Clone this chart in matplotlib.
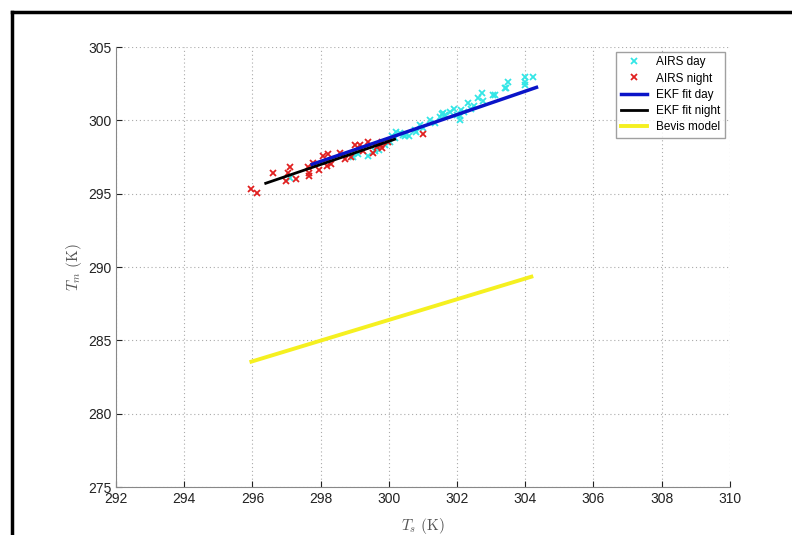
"""Tm vs Ts scatter with EKF fits and Bevis model."""
import matplotlib
matplotlib.use("Agg")
import matplotlib.pyplot as plt
from matplotlib.lines import Line2D

# AIRS day samples (Ts, Tm)
day_ts = [304.23, 303.99, 303.99, 303.5, 303.4, 303.06, 302.72, 302.62, 302.75,
          302.32, 302.5, 302.13, 302.08, 302.0, 301.79, 301.64, 301.5, 301.55,
          301.9, 301.2, 301.35, 300.9, 300.76, 300.51, 300.47, 300.32, 300.17,
          300.03, 300.22, 300.42, 300.6, 300.8, 301.6, 302.1, 302.4, 303.1,
          303.45, 304.0, 298.95, 299.1, 299.4, 297.09, 299.6, 299.7, 302.2,
          301.0, 300.1, 299.9]
day_tm = [302.98, 302.93, 302.41, 302.64, 302.18, 301.73, 301.84, 301.5, 301.3,
          301.2, 301.0, 300.7, 300.02, 300.35, 300.59, 300.36, 300.2, 300.45,
          300.75, 300.02, 299.8, 299.68, 299.34, 299.07, 298.9, 299.16, 298.78,
          298.55, 299.23, 299.0, 298.9, 299.2, 300.48, 300.3, 300.8, 301.7,
          302.18, 302.6, 297.53, 297.7, 297.6, 296.05, 297.9, 298.0, 300.6,
          299.5, 298.9, 298.3]

# AIRS night samples (Ts, Tm)
night_ts = [295.97, 296.12, 296.6, 297.09, 297.04, 296.99, 297.28, 297.62,
            297.67, 297.65, 297.77, 297.96, 298.06, 298.21, 298.18, 298.56,
            298.71, 299.0, 298.9, 299.39, 299.64, 299.78, 299.8, 299.54,
            299.25, 299.15, 301.0, 299.74, 299.99, 299.8, 298.3]
night_tm = [295.30, 295.03, 296.39, 296.80, 296.39, 295.89, 295.98, 296.84,
            296.43, 296.21, 297.07, 296.61, 297.57, 297.71, 296.89, 297.75,
            297.34, 298.32, 297.48, 298.54, 298.16, 298.32, 298.5, 297.75,
            297.9, 298.3, 299.07, 298.32, 298.54, 298.1, 297.0]

# fitted lines (endpoints)
ekf_day_ts = [297.75, 304.33]
ekf_day_tm = [297.0, 302.25]
ekf_night_ts = [296.39, 300.17]
ekf_night_tm = [295.71, 298.71]
bevis_ts = [295.97, 304.18]
bevis_tm = [283.55, 289.34]

plt.rcParams['font.family'] = ['Liberation Sans', 'DejaVu Sans']
plt.rcParams['mathtext.fontset'] = 'cm'

fig = plt.figure(figsize=(7.92, 5.35), dpi=100)
ax = fig.add_axes([0.1465, 0.0897, 0.775, 0.8224])

ax.plot(day_ts, day_tm, 'x', color='#33e6e6', ms=4, mew=1.3, label='AIRS day')
ax.plot(night_ts, night_tm, 'x', color='#e02020', ms=4, mew=1.3, label='AIRS night')
ax.plot(ekf_day_ts, ekf_day_tm, color='#0a14c8', lw=2.5, label='EKF fit day')
ax.plot(ekf_night_ts, ekf_night_tm, color='black', lw=2.0, label='EKF fit night')
ax.plot(bevis_ts, bevis_tm, color='#f5f020', lw=2.8, label='Bevis model')

ax.set_xlim(292, 310)
ax.set_ylim(275, 305)
ax.set_xticks(range(292, 311, 2))
ax.set_yticks(range(275, 306, 5))
ax.grid(True, ls=(0, (1, 2.5)), color='#aaaaaa', lw=0.8)
ax.tick_params(direction='in', length=4, labelsize=10, colors='#222222',
               top=False, right=False)
for s in ['top', 'right']:
    ax.spines[s].set_visible(False)
for s in ['left', 'bottom']:
    ax.spines[s].set_color('#888888')

ax.set_xlabel(r'$T_s\ \mathrm{(K)}$', fontsize=11, color='#555555')
ax.set_ylabel(r'$T_m\ \mathrm{(K)}$', fontsize=11, color='#555555')
ax.xaxis.set_label_coords(0.5, -0.065)
ax.yaxis.set_label_coords(-0.052, 0.5)

leg = ax.legend(loc='upper right', fontsize=8.5, frameon=True, fancybox=False,
                borderaxespad=0.4, handlelength=2.2, labelspacing=0.35)
leg.get_frame().set_edgecolor('#888888')
leg.get_frame().set_linewidth(1.0)

# outer frame (cut at right and bottom)
fig.add_artist(Line2D([12 / 792, 12 / 792], [0, 1 - 12 / 535], color='black', lw=2.5,
                      transform=fig.transFigure))
fig.add_artist(Line2D([12 / 792, 1], [1 - 12 / 535, 1 - 12 / 535], color='black', lw=2.5,
                      transform=fig.transFigure))

fig.savefig('out.png', dpi=100)
